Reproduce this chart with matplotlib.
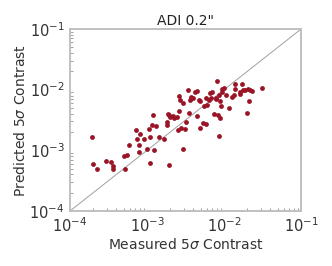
import matplotlib
matplotlib.use("Agg")
import matplotlib.pyplot as plt
import numpy as np

# log10 values
log_measured = [-3.718, -3.70, -3.653, -3.532, -3.462, -3.436, -3.44, -3.306, -3.263, -3.293,
                -3.241, -3.142, -3.129, -3.098, -3.046, -3.107, -3.107, -3.0, -2.974, -2.965,
                -2.934, -2.925, -2.96, -2.912, -2.843, -2.882, -2.786, -2.743, -2.743, -2.726,
                -2.713, -2.70, -2.721, -2.665, -2.652, -2.613, -2.591, -2.582, -2.57, -2.60,
                -2.565, -2.535, -2.53, -2.509, -2.50, -2.474, -2.448, -2.43, -2.375, -2.353,
                -2.349, -2.327, -2.314, -2.27, -2.257, -2.236, -2.236, -2.197, -2.18, -2.171,
                -2.158, -2.136, -2.11, -2.101, -2.067, -2.075, -2.067, -2.05, -2.036, -2.05,
                -2.032, -2.023, -2.006, -1.98, -1.937, -1.902, -1.876, -1.854, -1.859, -1.798,
                -1.789, -1.772, -1.75, -1.729, -1.703, -1.69, -1.672, -1.659, -1.642, -1.503,
                -2.093, -2.453, -2.40, -2.31, -2.22]
log_predicted = [-2.778, -3.223, -3.311, -3.174, -3.196, -3.251, -3.311, -3.086, -3.08, -3.306,
                 -2.915, -2.662, -2.816, -2.734, -2.816, -2.921, -3.02, -2.981, -2.651, -2.783,
                 -2.585, -2.414, -3.207, -3.003, -2.778, -2.607, -2.822, -2.53, -2.585, -2.398,
                 -2.42, -2.458, -3.245, -2.431, -2.469, -2.453, -2.359, -2.112, -2.178, -2.668,
                 -2.635, -2.976, -2.216, -2.651, -2.541, -2.002, -2.167, -2.117, -2.046, -2.442,
                 -2.018, -2.178, -2.629, -2.546, -2.266, -2.145, -2.574, -2.178, -2.062, -2.145,
                 -2.046, -2.403, -2.15, -2.145, -2.761, -2.42, -2.09, -2.189, -2.277, -2.475,
                 -2.04, -1.991, -1.974, -2.09, -2.304, -2.128, -2.095, -1.985, -1.903, -2.068,
                 -2.035, -1.914, -2.013, -2.013, -2.387, -1.985, -2.194, -2.002, -2.029, -1.974,
                 -1.859, -2.39, -2.13, -2.19, -2.25]

measured = 10 ** np.array(log_measured)
predicted = 10 ** np.array(log_predicted)
lims = [1e-4, 1e-1]

fig = plt.figure(figsize=(3.32, 2.66), dpi=100)
ax = fig.add_axes([0.211, 0.207, 0.696, 0.684])

ax.plot(lims, lims, color="#a0a0a0", lw=0.7, zorder=1)
ax.scatter(measured, predicted, s=12, color="#9b1426", linewidths=0, zorder=2)

ax.set_xscale("log")
ax.set_yscale("log")
ax.set_xlim(lims)
ax.set_ylim(lims)

for sp in ax.spines.values():
    sp.set_color("#c0c0c0")
    sp.set_linewidth(1.4)
ax.tick_params(which="major", length=0, labelsize=10.5, labelcolor="#333333", pad=4)
ax.tick_params(which="minor", direction="in", length=2, width=0.6, color="#909090")

ax.set_title('ADI 0.2"', fontsize=10, color="#222222", pad=3)
ax.set_xlabel(r"Measured 5$\sigma$ Contrast", fontsize=10, color="#333333", labelpad=1)
ax.set_ylabel(r"Predicted 5$\sigma$ Contrast", fontsize=10, color="#333333", labelpad=1)

fig.savefig("out.png", dpi=100)
